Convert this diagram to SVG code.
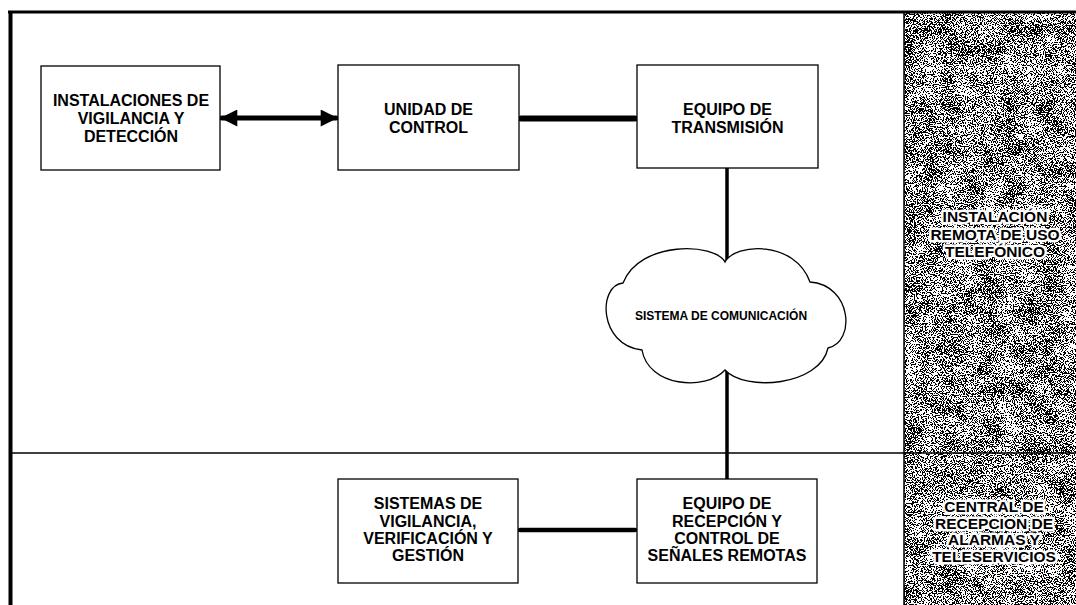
<svg xmlns="http://www.w3.org/2000/svg" width="1076" height="605" viewBox="0 0 1076 605">
  <defs>
    <style>
      .box { fill: #ffffff; stroke: #000000; stroke-width: 1.3; }
      .lbl { font-family: "Liberation Sans", Arial, sans-serif; font-weight: bold; font-size: 16px; fill: #000000; text-anchor: middle; }
      .small { font-size: 12px; }
      .zone { font-size: 15.5px; stroke: #ffffff; stroke-width: 5; stroke-linejoin: round; paint-order: stroke; }
      .wire { stroke: #000000; fill: none; stroke-linecap: round; }
      .thin { stroke: #000000; stroke-width: 1.5; fill: none; }
    </style>
    <!-- black and white speckle texture for the zone column -->
    <filter id="grain" x="0" y="0" width="100%" height="100%" color-interpolation-filters="sRGB">
      <feTurbulence type="fractalNoise" baseFrequency="0.9" numOctaves="2" seed="7" result="fineRaw"/>
      <feColorMatrix in="fineRaw" type="matrix" values="1 0 0 0 0  1 0 0 0 0  1 0 0 0 0  0 0 0 0 1" result="fine"/>
      <feTurbulence type="fractalNoise" baseFrequency="0.05" numOctaves="2" seed="3" result="coarseRaw"/>
      <feColorMatrix in="coarseRaw" type="matrix" values="0 1 0 0 0  0 1 0 0 0  0 1 0 0 0  0 0 0 0 1" result="coarse"/>
      <feComposite in="fine" in2="coarse" operator="arithmetic" k1="0" k2="3" k3="0.7" k4="-1.31"/>
      <feComponentTransfer>
        <feFuncR type="discrete" tableValues="0 1"/>
        <feFuncG type="discrete" tableValues="0 1"/>
        <feFuncB type="discrete" tableValues="0 1"/>
        <feFuncA type="linear" slope="0" intercept="1"/>
      </feComponentTransfer>
    </filter>
    <marker id="head" viewBox="0 0 10 10" refX="9" refY="5" markerWidth="4.2" markerHeight="3.4" orient="auto-start-reverse" markerUnits="strokeWidth">
      <path d="M0,0 L10,5 L0,10 Z" fill="#000000"/>
    </marker>
  </defs>

  <rect x="0" y="0" width="1076" height="605" fill="#ffffff"/>

  <!-- shaded zone column on the right -->
  <g id="zone-panel">
    <rect x="904" y="13" width="172" height="592" fill="#888888" filter="url(#grain)"/>
    <line class="thin" x1="904" y1="13" x2="904" y2="605"/>
  </g>

  <!-- outer frame and zone divider -->
  <g id="frame">
    <line x1="8" y1="12" x2="1076" y2="12" stroke="#000000" stroke-width="3"/>
    <line x1="10.5" y1="11" x2="10.5" y2="605" stroke="#000000" stroke-width="4"/>
    <line class="thin" x1="11" y1="453" x2="1076" y2="453"/>
  </g>

  <!-- connectors -->
  <g id="connectors">
    <line class="wire" x1="222" y1="118" x2="336" y2="118" stroke-width="5" stroke-linecap="butt" marker-start="url(#head)" marker-end="url(#head)"/>
    <line class="wire" x1="521" y1="118.5" x2="635" y2="118.5" stroke-width="6"/>
    <line class="wire" x1="727" y1="168" x2="727" y2="262" stroke-width="3.5" stroke-linecap="butt"/>
    <line class="wire" x1="727" y1="371" x2="727" y2="479" stroke-width="3.5" stroke-linecap="butt"/>
    <line class="wire" x1="520" y1="530" x2="635" y2="530" stroke-width="4.5"/>
  </g>

  <g id="node-instalaciones">
    <rect class="box" x="41" y="66" width="179" height="104"/>
    <text class="lbl" x="131" y="106">INSTALACIONES DE</text>
    <text class="lbl" x="131" y="124">VIGILANCIA Y</text>
    <text class="lbl" x="131" y="142">DETECCIÓN</text>
  </g>

  <g id="node-unidad">
    <rect class="box" x="338" y="65" width="181" height="105"/>
    <text class="lbl" x="428.5" y="115">UNIDAD DE</text>
    <text class="lbl" x="428.5" y="133">CONTROL</text>
  </g>

  <g id="node-transmision">
    <rect class="box" x="637" y="65" width="181" height="103"/>
    <text class="lbl" x="727.5" y="115">EQUIPO DE</text>
    <text class="lbl" x="727.5" y="133">TRANSMISIÓN</text>
  </g>

  <g id="node-comunicacion">
    <path class="box" d="M725,262 C735,243 795,240 810,282 C852,285 856,342 828,348 C820,386 745,392 725,370 C705,392 648,386 642,350 C598,345 598,285 623,283 C640,240 715,243 725,262 Z"/>
    <text class="lbl small" x="721" y="320">SISTEMA DE COMUNICACIÓN</text>
  </g>

  <g id="node-sistemas">
    <rect class="box" x="338" y="479" width="180" height="104"/>
    <text class="lbl" x="428" y="509">SISTEMAS DE</text>
    <text class="lbl" x="428" y="527">VIGILANCIA,</text>
    <text class="lbl" x="428" y="544">VERIFICACIÓN Y</text>
    <text class="lbl" x="428" y="561">GESTIÓN</text>
  </g>

  <g id="node-recepcion">
    <rect class="box" x="637" y="479" width="180" height="104"/>
    <text class="lbl" x="727" y="509">EQUIPO DE</text>
    <text class="lbl" x="727" y="527">RECEPCIÓN Y</text>
    <text class="lbl" x="727" y="544">CONTROL DE</text>
    <text class="lbl" x="727" y="561">SEÑALES REMOTAS</text>
  </g>

  <g id="zone-remota">
    <text class="lbl zone" x="995" y="222">INSTALACIÓN</text>
    <text class="lbl zone" x="995" y="240">REMOTA DE USO</text>
    <text class="lbl zone" x="995" y="257">TELEFÓNICO</text>
  </g>

  <g id="zone-central">
    <text class="lbl zone" x="994" y="512">CENTRAL DE</text>
    <text class="lbl zone" x="994" y="529">RECEPCION DE</text>
    <text class="lbl zone" x="994" y="545">ALARMAS Y</text>
    <text class="lbl zone" x="994" y="562">TELESERVICIOS</text>
  </g>
</svg>
